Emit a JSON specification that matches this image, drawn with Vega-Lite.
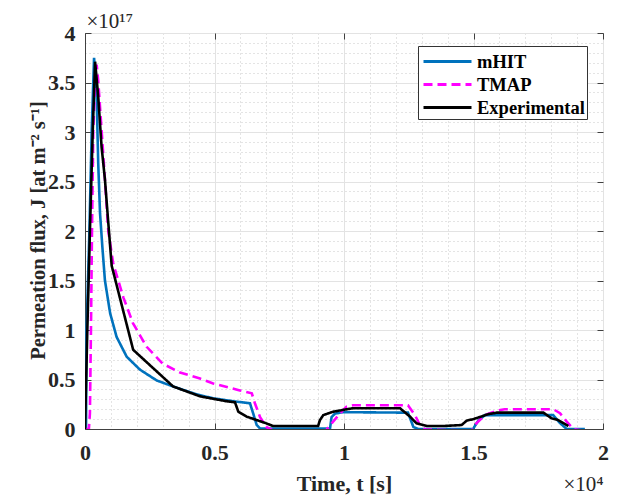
{
  "$schema": "https://vega.github.io/schema/vega-lite/v6.json",
  "width": 518,
  "height": 396,
  "autosize": "none",
  "padding": {"left": 85, "top": 33, "right": 17, "bottom": 68},
  "background": "white",
  "config": {
    "font": "Liberation Serif",
    "view": {"stroke": "#404040", "strokeWidth": 1},
    "axis": {
      "labelFont": "Liberation Serif", "labelFontWeight": "bold", "labelFontSize": 22, "labelColor": "#262626",
      "titleFont": "Liberation Serif", "titleFontWeight": "bold", "titleFontSize": 21, "titleColor": "#262626",
      "domainColor": "#404040", "tickColor": "#404040"
    }
  },
  "data": {"values": [
    {"s":"mHIT","x":0,"y":0},{"s":"mHIT","x":0.004,"y":0},{"s":"mHIT","x":0.006,"y":1.0},{"s":"mHIT","x":0.017,"y":2.0},{"s":"mHIT","x":0.026,"y":3.02},{"s":"mHIT","x":0.035,"y":3.75},{"s":"mHIT","x":0.045,"y":3.36},{"s":"mHIT","x":0.051,"y":2.69},{"s":"mHIT","x":0.058,"y":2.18},{"s":"mHIT","x":0.067,"y":1.84},{"s":"mHIT","x":0.077,"y":1.5},{"s":"mHIT","x":0.097,"y":1.17},{"s":"mHIT","x":0.122,"y":0.93},{"s":"mHIT","x":0.161,"y":0.73},{"s":"mHIT","x":0.212,"y":0.6},{"s":"mHIT","x":0.277,"y":0.49},{"s":"mHIT","x":0.34,"y":0.43},{"s":"mHIT","x":0.43,"y":0.35},{"s":"mHIT","x":0.495,"y":0.31},{"s":"mHIT","x":0.573,"y":0.28},{"s":"mHIT","x":0.637,"y":0.26},{"s":"mHIT","x":0.649,"y":0.16},{"s":"mHIT","x":0.663,"y":0.04},{"s":"mHIT","x":0.676,"y":0.005},{"s":"mHIT","x":0.946,"y":0.005},{"s":"mHIT","x":0.952,"y":0.12},{"s":"mHIT","x":0.965,"y":0.155},{"s":"mHIT","x":0.996,"y":0.17},{"s":"mHIT","x":1.247,"y":0.165},{"s":"mHIT","x":1.268,"y":0.02},{"s":"mHIT","x":1.287,"y":0},{"s":"mHIT","x":1.498,"y":0},{"s":"mHIT","x":1.52,"y":0.09},{"s":"mHIT","x":1.544,"y":0.14},{"s":"mHIT","x":1.808,"y":0.14},{"s":"mHIT","x":1.834,"y":0.06},{"s":"mHIT","x":1.86,"y":0},{"s":"mHIT","x":1.93,"y":0},
    {"s":"TMAP","x":0,"y":0},{"s":"TMAP","x":0.015,"y":0},{"s":"TMAP","x":0.019,"y":0.16},{"s":"TMAP","x":0.023,"y":1.0},{"s":"TMAP","x":0.027,"y":2.0},{"s":"TMAP","x":0.032,"y":3.02},{"s":"TMAP","x":0.039,"y":3.52},{"s":"TMAP","x":0.045,"y":3.68},{"s":"TMAP","x":0.051,"y":3.52},{"s":"TMAP","x":0.064,"y":3.02},{"s":"TMAP","x":0.077,"y":2.52},{"s":"TMAP","x":0.09,"y":2.0},{"s":"TMAP","x":0.109,"y":1.67},{"s":"TMAP","x":0.148,"y":1.33},{"s":"TMAP","x":0.185,"y":1.07},{"s":"TMAP","x":0.238,"y":0.83},{"s":"TMAP","x":0.3,"y":0.66},{"s":"TMAP","x":0.367,"y":0.57},{"s":"TMAP","x":0.444,"y":0.51},{"s":"TMAP","x":0.495,"y":0.46},{"s":"TMAP","x":0.598,"y":0.39},{"s":"TMAP","x":0.644,"y":0.36},{"s":"TMAP","x":0.656,"y":0.26},{"s":"TMAP","x":0.676,"y":0.12},{"s":"TMAP","x":0.7,"y":0.02},{"s":"TMAP","x":0.726,"y":-0.015},{"s":"TMAP","x":0.93,"y":-0.015},{"s":"TMAP","x":0.958,"y":0.074},{"s":"TMAP","x":0.985,"y":0.16},{"s":"TMAP","x":1.01,"y":0.225},{"s":"TMAP","x":1.035,"y":0.24},{"s":"TMAP","x":1.247,"y":0.24},{"s":"TMAP","x":1.274,"y":0.14},{"s":"TMAP","x":1.293,"y":0.04},{"s":"TMAP","x":1.313,"y":-0.005},{"s":"TMAP","x":1.493,"y":-0.015},{"s":"TMAP","x":1.512,"y":0.06},{"s":"TMAP","x":1.544,"y":0.14},{"s":"TMAP","x":1.59,"y":0.185},{"s":"TMAP","x":1.62,"y":0.2},{"s":"TMAP","x":1.808,"y":0.2},{"s":"TMAP","x":1.834,"y":0.16},{"s":"TMAP","x":1.86,"y":0.075},{"s":"TMAP","x":1.886,"y":0},{"s":"TMAP","x":1.92,"y":-0.015},
    {"s":"Experimental","x":0,"y":0},{"s":"Experimental","x":0.009,"y":1.0},{"s":"Experimental","x":0.019,"y":2.0},{"s":"Experimental","x":0.03,"y":3.02},{"s":"Experimental","x":0.039,"y":3.71},{"s":"Experimental","x":0.051,"y":3.36},{"s":"Experimental","x":0.064,"y":2.85},{"s":"Experimental","x":0.077,"y":2.52},{"s":"Experimental","x":0.09,"y":2.08},{"s":"Experimental","x":0.103,"y":1.65},{"s":"Experimental","x":0.186,"y":0.8},{"s":"Experimental","x":0.34,"y":0.43},{"s":"Experimental","x":0.444,"y":0.33},{"s":"Experimental","x":0.547,"y":0.28},{"s":"Experimental","x":0.579,"y":0.27},{"s":"Experimental","x":0.592,"y":0.175},{"s":"Experimental","x":0.624,"y":0.125},{"s":"Experimental","x":0.7,"y":0.057},{"s":"Experimental","x":0.726,"y":0.03},{"s":"Experimental","x":0.9,"y":0.03},{"s":"Experimental","x":0.907,"y":0.09},{"s":"Experimental","x":0.92,"y":0.14},{"s":"Experimental","x":0.958,"y":0.175},{"s":"Experimental","x":1.035,"y":0.21},{"s":"Experimental","x":1.216,"y":0.21},{"s":"Experimental","x":1.255,"y":0.125},{"s":"Experimental","x":1.28,"y":0.057},{"s":"Experimental","x":1.32,"y":0.03},{"s":"Experimental","x":1.383,"y":0.03},{"s":"Experimental","x":1.454,"y":0.04},{"s":"Experimental","x":1.474,"y":0.085},{"s":"Experimental","x":1.5,"y":0.1},{"s":"Experimental","x":1.557,"y":0.15},{"s":"Experimental","x":1.59,"y":0.165},{"s":"Experimental","x":1.77,"y":0.165},{"s":"Experimental","x":1.8,"y":0.11},{"s":"Experimental","x":1.827,"y":0.09},{"s":"Experimental","x":1.86,"y":0.04},{"s":"Experimental","x":1.866,"y":0.03}
  ]},
  "layer": [
    {
      "mark": {"type": "line", "opacity": 0},
      "encoding": {
        "x": {"field": "x", "type": "quantitative", "scale": {"domain": [0, 2], "nice": false, "zero": false},
          "axis": {"orient": "bottom", "values": [0.1,0.2,0.3,0.4,0.6,0.7,0.8,0.9,1.1,1.2,1.3,1.4,1.6,1.7,1.8,1.9], "labels": false, "ticks": false, "domain": false, "grid": true, "gridColor": "#c8c8c8", "gridDash": [1, 3], "gridWidth": 1,
            "title": "×10⁴", "titleX": 498, "titleY": 61, "titleBaseline": "alphabetic", "titleFontWeight": "normal", "titleFontSize": 21, "titleAngle": 0}},
        "y": {"field": "y", "type": "quantitative", "scale": {"domain": [0, 4], "nice": false, "zero": false},
          "axis": {"orient": "left", "values": [0.1,0.2,0.3,0.4,0.6,0.7,0.8,0.9,1.1,1.2,1.3,1.4,1.6,1.7,1.8,1.9,2.1,2.2,2.3,2.4,2.6,2.7,2.8,2.9,3.1,3.2,3.3,3.4,3.6,3.7,3.8,3.9], "labels": false, "ticks": false, "domain": false, "grid": true, "gridColor": "#c8c8c8", "gridDash": [1, 3], "gridWidth": 1,
            "title": "×10¹⁷", "titleX": 1, "titleY": -6, "titleAngle": 0, "titleAlign": "left", "titleBaseline": "alphabetic", "titleFontWeight": "normal", "titleFontSize": 21}},
        "detail": {"field": "s"}
      }
    },
    {
      "mark": {"type": "line", "opacity": 0},
      "encoding": {
        "x": {"field": "x", "type": "quantitative", "axis": {"orient": "top", "values": [0, 0.5, 1, 1.5, 2], "labels": false, "tickSize": -6, "domain": false, "grid": false, "title": null}},
        "y": {"field": "y", "type": "quantitative", "axis": {"orient": "right", "values": [0,0.5,1,1.5,2,2.5,3,3.5,4], "labels": false, "tickSize": -6, "domain": false, "grid": false, "title": null}},
        "detail": {"field": "s"}
      }
    },
    {
      "mark": {"type": "line", "strokeWidth": 2.6, "clip": true},
      "encoding": {
        "x": {"field": "x", "type": "quantitative",
          "axis": {"orient": "bottom", "values": [0, 0.5, 1, 1.5, 2], "labelExpr": "datum.value", "grid": true, "gridColor": "#e3e3e3", "gridWidth": 1, "tickSize": -6, "labelPadding": 19, "labelFlush": false,
            "title": "Time, t [s]", "titlePadding": 10, "titleFontSize": 22}},
        "y": {"field": "y", "type": "quantitative",
          "axis": {"orient": "left", "values": [0,0.5,1,1.5,2,2.5,3,3.5,4], "labelExpr": "datum.value", "grid": true, "gridColor": "#e3e3e3", "gridWidth": 1, "tickSize": -6, "labelPadding": 16, "labelFlush": false,
            "title": "Permeation flux, J [at m⁻² s⁻¹]", "titleFontSize": 20.5, "titleX": -47, "titleY": 197, "titleAngle": 270, "titleAlign": "center", "titleBaseline": "middle"}},
        "color": {"field": "s", "type": "nominal",
          "scale": {"domain": ["mHIT", "TMAP", "Experimental"], "range": ["#0072BD", "#FF00FF", "#000000"]},
          "legend": {"title": null, "orient": "none", "legendX": 333, "legendY": 13, "symbolType": "M-2,0H2", "symbolSize": 576, "symbolStrokeWidth": 3, "symbolOffset": 14, "labelFont": "Liberation Serif", "labelFontWeight": "bold", "labelFontSize": 18.5, "labelColor": "#000", "labelOffset": 16, "strokeColor": "#333", "fillColor": "white", "padding": 2, "rowPadding": 0, "cornerRadius": 0}},
        "strokeDash": {"field": "s", "type": "nominal",
          "scale": {"domain": ["mHIT", "TMAP", "Experimental"], "range": [[1, 0], [9, 5], [1, 0]]}, "legend": null},
        "order": {"field": "x", "type": "quantitative"}
      }
    }
  ],
  "resolve": {"axis": {"x": "independent", "y": "independent"}}
}
